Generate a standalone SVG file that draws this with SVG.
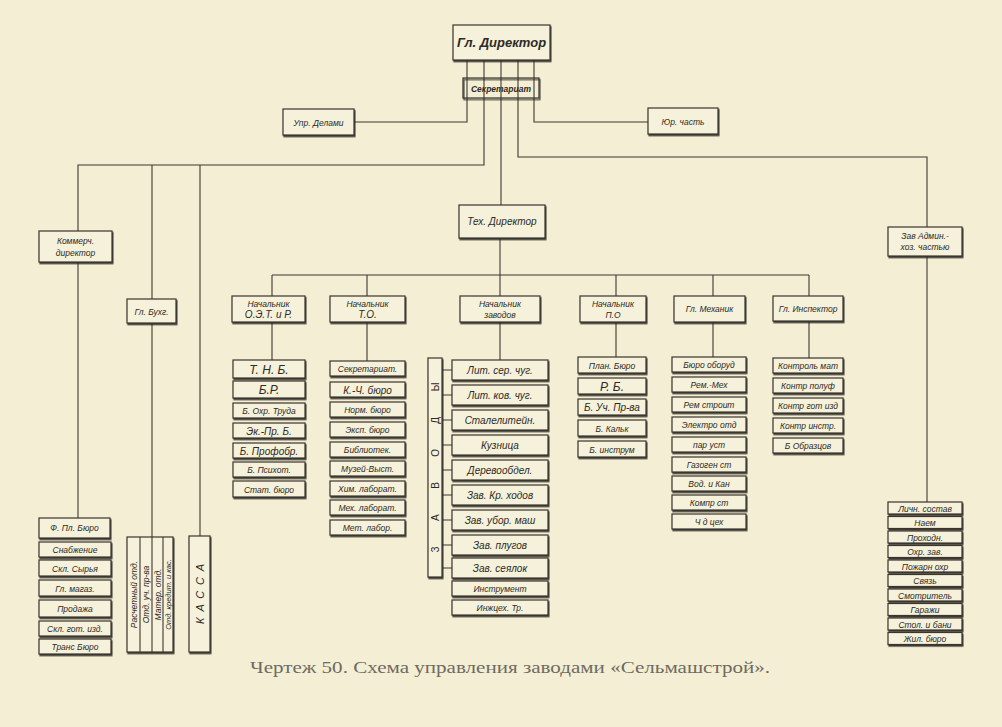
<svg xmlns="http://www.w3.org/2000/svg" width="1002" height="727" viewBox="0 0 1002 727">
<defs>
<filter id="sh" x="-10%" y="-20%" width="125%" height="160%"><feDropShadow dx="0.9" dy="1.6" stdDeviation="0.35" flood-color="#2b2620" flood-opacity="0.9"/></filter>
<style>
.bg{fill:#f4efd4}
.b{fill:#f5f1da;stroke:#3a342d;stroke-width:1.2;filter:url(#sh)}
.bo{fill:none;stroke:#3a342d;stroke-width:1.2}
.c{fill:none;stroke:#3d3731;stroke-width:1.1}
text{font-family:"Liberation Sans","DejaVu Sans",sans-serif;font-style:italic;fill:#2e2a25;text-anchor:middle}
.s{font-size:8.5px}
.m{font-size:10px}
.l{font-size:12px}
.cap{font-family:"Liberation Serif","DejaVu Serif",serif;font-style:normal;font-size:17px;fill:#6e6a62;text-anchor:start}
</style>
</defs>
<rect class="bg" x="0" y="0" width="1002" height="727"/>

<g id="connectors">
<path class="c" d="M467 60V122H354"/>
<path class="c" d="M534 60V122H648"/>
<path class="c" d="M484 60V165H78V231"/>
<path class="c" d="M152 165V299"/>
<path class="c" d="M200 165V536"/>
<path class="c" d="M501 60V205"/>
<path class="c" d="M518 60V157H927V227"/>
<path class="c" d="M78 262V518"/>
<path class="c" d="M152 323V537"/>
<path class="c" d="M927 256V502"/>
<path class="c" d="M500 238V296"/>
<path class="c" d="M272 275H809"/>
<path class="c" d="M272 275V296M367 275V296M616 275V296M713 275V296M809 275V296"/>
<path class="c" d="M272 322V360M367 322V361M500 322V360M616 322V357M713 322V357M809 321V358"/>
<path class="c" d="M442 370H452M442 395H452M442 420H452M442 445H452M442 470H452M442 495H452M442 520H452M442 545H452M442 568H452"/>
</g>

<g id="gl-direktor"><rect class="b" x="453" y="25" width="97" height="35"/><text x="501.5" y="47" style="font-size:13px;font-weight:bold">Гл. Директор</text></g>
<g id="sekretariat"><rect class="bo" x="463" y="78" width="76" height="20" filter="url(#sh)"/><text class="s" x="501" y="92" style="font-weight:bold">Секретариат</text></g>
<g id="upr-delami"><rect class="b" x="283" y="109" width="71" height="26"/><text class="s" x="318.5" y="126">Упр. Делами</text></g>
<g id="yur-chast"><rect class="b" x="648" y="108" width="70" height="26"/><text class="s" x="683" y="125">Юр. часть</text></g>
<g id="teh-direktor"><rect class="b" x="459" y="205" width="86" height="33"/><text class="m" x="502" y="225">Тех. Директор</text></g>
<g id="kommerch"><rect class="b" x="39" y="231" width="73" height="31"/><text class="s" x="75.5" y="244">Коммерч.</text><text class="s" x="75.5" y="256">директор</text></g>
<g id="gl-buhg"><rect class="b" x="127" y="299" width="49" height="24"/><text class="s" x="151.5" y="315">Гл. Бухг.</text></g>
<g id="zav-admin"><rect class="b" x="888" y="227" width="74" height="29"/><text class="s" x="925" y="239">Зав Админ.-</text><text class="s" x="925" y="250">хоз. частью</text></g>

<g id="nach-oet"><rect class="b" x="232" y="296" width="73" height="26"/><text class="s" x="268.5" y="307">Начальник</text><text class="m" x="268.5" y="318">О.Э.Т. и Р.</text></g>
<g id="nach-to"><rect class="b" x="330" y="296" width="75" height="26"/><text class="s" x="367.5" y="307">Начальник</text><text class="m" x="367.5" y="318">Т.О.</text></g>
<g id="nach-zavodov"><rect class="b" x="460" y="296" width="80" height="26"/><text class="s" x="500" y="307">Начальник</text><text class="s" x="500" y="318">заводов</text></g>
<g id="nach-po"><rect class="b" x="580" y="296" width="66" height="26"/><text class="s" x="613" y="307">Начальник</text><text class="s" x="613" y="318">П.О</text></g>
<g id="gl-mehanik"><rect class="b" x="674" y="296" width="71" height="26"/><text class="s" x="709.5" y="312">Гл. Механик</text></g>
<g id="gl-inspektor"><rect class="b" x="773" y="296" width="70" height="25"/><text class="s" x="808" y="312">Гл. Инспектор</text></g>

<g id="oet-list">
<rect class="b" x="233" y="360" width="72" height="18"/><text class="l" x="269" y="374">Т. Н. Б.</text>
<rect class="b" x="233" y="381" width="72" height="17"/><text class="l" x="269" y="394">Б.Р.</text>
<rect class="b" x="233" y="403" width="72" height="15"/><text class="s" x="269" y="414">Б. Охр. Труда</text>
<rect class="b" x="233" y="423" width="72" height="15"/><text class="m" x="269" y="435">Эк.-Пр. Б.</text>
<rect class="b" x="233" y="443" width="72" height="15"/><text class="m" x="269" y="455">Б. Профобр.</text>
<rect class="b" x="233" y="462" width="72" height="15"/><text class="s" x="269" y="473">Б. Психот.</text>
<rect class="b" x="233" y="481" width="72" height="16"/><text class="s" x="269" y="493">Стат. бюро</text>
</g>

<g id="to-list">
<rect class="b" x="330" y="361" width="75" height="15"/><text class="s" x="367.5" y="372">Секретариат.</text>
<rect class="b" x="330" y="382" width="75" height="15"/><text class="m" x="367.5" y="393.5">К.-Ч. бюро</text>
<rect class="b" x="330" y="402" width="75" height="15"/><text class="s" x="367.5" y="413">Норм. бюро</text>
<rect class="b" x="330" y="422" width="75" height="15"/><text class="s" x="367.5" y="433">Эксп. бюро</text>
<rect class="b" x="330" y="442" width="75" height="15"/><text class="s" x="367.5" y="453">Библиотек.</text>
<rect class="b" x="330" y="461" width="75" height="15"/><text class="s" x="367.5" y="472">Музей-Выст.</text>
<rect class="b" x="330" y="481" width="75" height="15"/><text class="s" x="367.5" y="492">Хим. лаборат.</text>
<rect class="b" x="330" y="500" width="75" height="15"/><text class="s" x="367.5" y="511">Мех. лаборат.</text>
<rect class="b" x="330" y="520" width="75" height="15"/><text class="s" x="367.5" y="531">Мет. лабор.</text>
</g>

<g id="zavody">
<rect class="b" x="428" y="358" width="14" height="219"/>
<text class="m" transform="translate(438.5 467.5) rotate(-90)" x="0" y="0" textLength="170" lengthAdjust="spacing" style="font-style:normal">ЗАВОДЫ</text>
</g>
<g id="zavody-list">
<rect class="b" x="452" y="360" width="96" height="20"/><text class="m" x="500" y="374">Лит. сер. чуг.</text>
<rect class="b" x="452" y="385" width="96" height="20"/><text class="m" x="500" y="399">Лит. ков. чуг.</text>
<rect class="b" x="452" y="410" width="96" height="20"/><text class="m" x="500" y="424">Сталелитейн.</text>
<rect class="b" x="452" y="435" width="96" height="20"/><text class="m" x="500" y="449">Кузница</text>
<rect class="b" x="452" y="460" width="96" height="20"/><text class="m" x="500" y="474">Деревообдел.</text>
<rect class="b" x="452" y="485" width="96" height="20"/><text class="m" x="500" y="499">Зав. Кр. ходов</text>
<rect class="b" x="452" y="510" width="96" height="20"/><text class="m" x="500" y="524">Зав. убор. маш</text>
<rect class="b" x="452" y="535" width="96" height="20"/><text class="m" x="500" y="549">Зав. плугов</text>
<rect class="b" x="452" y="558" width="96" height="20"/><text class="m" x="500" y="572">Зав. сеялок</text>
<rect class="b" x="452" y="581" width="96" height="15"/><text class="s" x="500" y="592">Инструмент</text>
<rect class="b" x="452" y="600" width="96" height="15"/><text class="s" x="500" y="611">Инжцех. Тр.</text>
</g>

<g id="po-list">
<rect class="b" x="578" y="357" width="68" height="16"/><text class="s" x="612" y="368.5">План. Бюро</text>
<rect class="b" x="578" y="378" width="68" height="16"/><text class="l" x="612" y="391">Р. Б.</text>
<rect class="b" x="578" y="399" width="68" height="16"/><text class="m" x="612" y="411">Б. Уч. Пр-ва</text>
<rect class="b" x="578" y="420" width="68" height="16"/><text class="s" x="612" y="431.5">Б. Кальк</text>
<rect class="b" x="578" y="441" width="68" height="16"/><text class="s" x="612" y="452.5">Б. инструм</text>
</g>

<g id="meh-list">
<rect class="b" x="672" y="357" width="74" height="15"/><text class="s" x="709" y="368">Бюро оборуд</text>
<rect class="b" x="672" y="377" width="74" height="15"/><text class="s" x="709" y="388">Рем.-Мех</text>
<rect class="b" x="672" y="397" width="74" height="15"/><text class="s" x="709" y="408">Рем строит</text>
<rect class="b" x="672" y="417" width="74" height="15"/><text class="s" x="709" y="428">Электро отд</text>
<rect class="b" x="672" y="437" width="74" height="15"/><text class="s" x="709" y="448">пар уст</text>
<rect class="b" x="672" y="457" width="74" height="15"/><text class="s" x="709" y="468">Газоген ст</text>
<rect class="b" x="672" y="476" width="74" height="15"/><text class="s" x="709" y="487">Вод. и Кан</text>
<rect class="b" x="672" y="495" width="74" height="15"/><text class="s" x="709" y="506">Компр ст</text>
<rect class="b" x="672" y="514" width="74" height="15"/><text class="s" x="709" y="525">Ч д цех</text>
</g>

<g id="insp-list">
<rect class="b" x="773" y="358" width="70" height="15"/><text class="s" x="808" y="369">Контроль мат</text>
<rect class="b" x="773" y="378" width="70" height="15"/><text class="s" x="808" y="389">Контр полуф</text>
<rect class="b" x="773" y="398" width="70" height="15"/><text class="s" x="808" y="409">Контр гот изд</text>
<rect class="b" x="773" y="418" width="70" height="15"/><text class="s" x="808" y="429">Контр инстр.</text>
<rect class="b" x="773" y="438" width="70" height="15"/><text class="s" x="808" y="449">Б Образцов</text>
</g>

<g id="kommerch-list">
<rect class="b" x="39" y="518" width="71" height="20"/><text class="s" x="74.5" y="531">Ф. Пл. Бюро</text>
<rect class="b" x="39" y="542" width="72" height="15"/><text class="s" x="75" y="553">Снабжение</text>
<rect class="b" x="39" y="560" width="72" height="16"/><text class="s" x="75" y="571.5">Скл. Сырья</text>
<rect class="b" x="39" y="580" width="72" height="16"/><text class="s" x="75" y="591.5">Гл. магаз.</text>
<rect class="b" x="39" y="600" width="72" height="17"/><text class="s" x="75" y="612">Продажа</text>
<rect class="b" x="39" y="621" width="72" height="15"/><text class="s" x="75" y="632">Скл. гот. изд.</text>
<rect class="b" x="39" y="639" width="72" height="15"/><text class="s" x="75" y="650">Транс Бюро</text>
</g>

<g id="buhg-otdely">
<rect class="b" x="127" y="537" width="46" height="115"/>
<path class="c" d="M140 537V652M152 537V652M163 537V652"/>
<text class="s" transform="translate(136.5 594.5) rotate(-90)">Расчетный отд.</text>
<text class="s" transform="translate(149 594.5) rotate(-90)">Отд. уч. пр-ва</text>
<text class="s" transform="translate(160.5 594.5) rotate(-90)">Матер. отд.</text>
<text class="s" transform="translate(171 594.5) rotate(-90)" style="font-size:7.5px">Отд. кредит. и кас.</text>
</g>

<g id="kassa"><rect class="b" x="189" y="536" width="21" height="116"/><text transform="translate(204 594) rotate(-90)" textLength="60" lengthAdjust="spacing" style="font-size:11px">КАССА</text></g>

<g id="admin-list">
<rect class="b" x="888" y="502" width="74" height="12"/><text class="s" x="925" y="511.5">Личн. состав</text>
<rect class="b" x="888" y="516.5" width="74" height="12"/><text class="s" x="925" y="526">Наем</text>
<rect class="b" x="888" y="531" width="74" height="12"/><text class="s" x="925" y="540.5">Проходн.</text>
<rect class="b" x="888" y="545.5" width="74" height="12"/><text class="s" x="925" y="555">Охр. зав.</text>
<rect class="b" x="888" y="560" width="74" height="12"/><text class="s" x="925" y="569.5">Пожарн охр</text>
<rect class="b" x="888" y="574.5" width="74" height="12"/><text class="s" x="925" y="584">Связь</text>
<rect class="b" x="888" y="589" width="74" height="12"/><text class="s" x="925" y="598.5">Смотритель</text>
<rect class="b" x="888" y="603.5" width="74" height="12"/><text class="s" x="925" y="613">Гаражи</text>
<rect class="b" x="888" y="618" width="74" height="12"/><text class="s" x="925" y="627.5">Стол. и бани</text>
<rect class="b" x="888" y="632.5" width="74" height="12"/><text class="s" x="925" y="642">Жил. бюро</text>
</g>

<text class="cap" x="250" y="673" textLength="520" lengthAdjust="spacingAndGlyphs">Чертеж 50. Схема управления заводами «Сельмашстрой».</text>
</svg>
